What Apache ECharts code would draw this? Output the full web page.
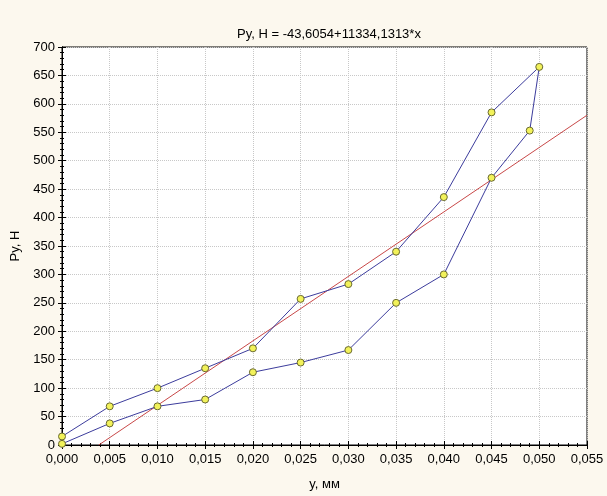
<!DOCTYPE html>
<html><head><meta charset="utf-8">
<script src="https://cdn.jsdelivr.net/npm/echarts@6/dist/echarts.min.js"></script>
<style>html,body{margin:0;padding:0;background:#fcf8ee;}#c{width:607px;height:496px;}</style>
</head><body><div id="c"></div>
<script>
// Data (x in mm, Py in N)
const loopX = [0.000,0.005,0.010,0.015,0.020,0.025,0.030,0.035,0.040,0.045,0.049,0.050,0.045,0.040,0.035,0.030,0.025,0.020,0.015,0.010,0.005,0.000];
const loopY = [2,38,68,80,128,145,167,250,300,470,553,665,585,436,340,283,257,170,135,100,68,15];
const fitX = [0.00385,0.055];
const fitY = [0,580];
const titleText = 'Py, H = -43,6054+11334,1313*x';
const xName = 'y, мм';
const yName = 'Py, H';

const loopData = loopX.map((x,i)=>[x, loopY[i]]);
const fitData = fitX.map((x,i)=>[x, fitY[i]]);
const font = 'Liberation Sans';
const chart = echarts.init(document.getElementById('c'));
const common = {min:0, axisLine:{show:true,lineStyle:{color:'#000',width:1}}, axisTick:{show:true,inside:true,length:4,lineStyle:{color:'#000'}}, minorTick:{show:true,splitNumber:5,length:2,lineStyle:{color:'#000'}}};
chart.setOption({
  backgroundColor:'#fcf8ee',
  animation:false,
  title:{text:titleText,left:324,top:23,textAlign:'center',textStyle:{fontFamily:font,fontSize:13,fontWeight:'normal',color:'#000'}},
  grid:{left:62,top:47,right:20,bottom:49,show:true,backgroundColor:'#fff',borderColor:'#000',borderWidth:1},
  xAxis:[
    Object.assign({},common,{type:'value',position:'bottom',max:0.055,interval:0.005,
      name:xName,nameLocation:'middle',nameGap:33,nameTextStyle:{fontFamily:font,fontSize:13,color:'#000'},
      axisLabel:{fontFamily:font,fontSize:13,color:'#000',margin:8,formatter:v=>v.toFixed(3).replace('.',',')},
      splitLine:{show:true,lineStyle:{color:'#c8c8c8',type:'dotted'}}}),
    Object.assign({},common,{type:'value',position:'top',max:0.055,interval:0.005,axisLabel:{show:false},splitLine:{show:false}})
  ],
  yAxis:[
    Object.assign({},common,{type:'value',position:'left',max:700,interval:50,
      name:yName,nameLocation:'middle',nameGap:36,nameTextStyle:{fontFamily:font,fontSize:13,color:'#000'},
      axisLabel:{fontFamily:font,fontSize:13,color:'#000',margin:7},
      splitLine:{show:true,lineStyle:{color:'#c8c8c8',type:'dotted'}}}),
    Object.assign({},common,{type:'value',position:'right',max:700,interval:50,axisLabel:{show:false},splitLine:{show:false}})
  ],
  series:[
    {type:'line',data:fitData,xAxisIndex:0,yAxisIndex:0,symbol:'none',lineStyle:{color:'#c84848',width:1},clip:true,z:2},
    {type:'line',data:loopData,xAxisIndex:0,yAxisIndex:0,symbol:'circle',symbolSize:7,clip:true,
      lineStyle:{color:'#3c3c9c',width:1},itemStyle:{color:'#f2f25a',borderColor:'#6a6a30',borderWidth:1},z:3}
  ]
});
</script></body></html>
